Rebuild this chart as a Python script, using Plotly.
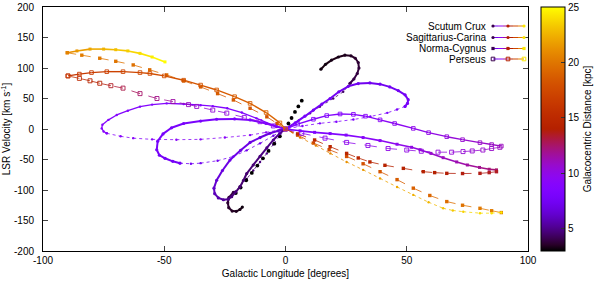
import math
import plotly.graph_objects as go

# ---------------- data ----------------
# Scutum-Crux
scutum_hook_up_l = [14.6, 16.5, 19.0, 21.8, 24.5, 27.0, 28.8, 30.0, 30.3, 29.6, 28.2, 26.6]
scutum_hook_up_v = [98, 106, 113, 118, 121, 120, 116, 109, 100, 91, 82, 75]
scutum_hook_up_r = [3.2, 3.2, 3.3, 3.3, 3.4, 3.5, 3.6, 3.7, 3.8, 3.9, 4.0, 4.1]

scutum_mid_l = [26.6, 23.8, 19.7, 14.2, 10.1, 5.5, 2.0, 0.0, -2.5, -5.0, -7.7, -10.5, -13.3, -16.0, -18.8, -21.5]
scutum_mid_v = [75, 61, 50, 36.6, 25.7, 14, 5, 0, -12, -25, -40, -54, -68, -82, -94, -104]
scutum_mid_r = [4.2, 4.4, 4.6, 4.8, 5.0, 5.2, 5.4, 5.5, 5.4, 5.2, 5.0, 4.8, 4.6, 4.4, 4.2, 4.0]

scutum_hook_low_l = [-21.5, -23.3, -23.8, -23.4, -22.0, -20.3, -18.8, -17.8]
scutum_hook_low_v = [-104, -112, -121, -129, -134.5, -135, -132, -128]
scutum_hook_low_r = [4.0, 3.8, 3.7, 3.6, 3.5, 3.4, 3.3, 3.2]

scutum_far_l = [0, 5, 11.5, 18, 25.2, 32, 39, 46, 52.7, 59.5, 66.5, 73, 80.2, 85, 89]
scutum_far_v = [0, -10, -23, -34, -45, -57, -70, -83, -97, -109, -119, -125, -130, -134, -137]
scutum_far_r = [17.0, 17.2, 17.4, 17.6, 17.8, 18.0, 18.3, 18.6, 18.9, 19.2, 19.5, 19.8, 20.1, 20.3, 20.5]

# Sagittarius-Carina
carina_top_l = [0, -5, -11.9, -18, -24, -30, -35, -42, -49, -55, -60, -65, -69.6, -73, -75.5, -75.8, -75, -73.7]
carina_top_v = [0, 6, 17.5, 27, 34, 37.5, 39, 41, 42, 40, 36.6, 30, 23, 15, 7, 1, -4, -7]
carina_top_r = [8.6, 8.6, 8.6, 8.6, 8.6, 8.7, 8.7, 8.7, 8.8, 8.8, 8.8, 8.9, 8.9, 8.9, 9.0, 9.0, 9.0, 9.0]

carina_bot_l = [-73.7, -68, -62.8, -55, -45, -35, -25, -14.6, -8, -2.3, 0]
carina_bot_v = [-7, -12, -15, -17, -17.5, -17, -14, -10, -5.5, -1.6, 0]
carina_bot_r = [9.1, 9.1, 9.2, 9.2, 9.3, 9.3, 9.3, 9.4, 9.4, 9.4, 9.4]

sagittarius_l = [0, 4, 8, 11.5, 15, 18.4, 22, 25.9, 30, 34.8, 39, 43, 46.5, 49.3, 50.6, 50.3, 49.3]
sagittarius_v = [0, 10, 21, 31, 41, 50, 61, 70, 74.5, 75.5, 73.5, 69, 63, 56, 48, 42, 37]
sagittarius_r = [8.0, 7.9, 7.8, 7.7, 7.6, 7.5, 7.4, 7.3, 7.3, 7.3, 7.3, 7.4, 7.4, 7.5, 7.6, 7.7, 7.8]

sagittarius_ret_l = [49.3, 46, 42, 35, 28, 21, 14.2, 7, 0]
sagittarius_ret_v = [37, 32, 26.5, 20.5, 15.5, 12, 9.3, 5, 0]
sagittarius_ret_r = [7.9, 8.0, 8.1, 8.2, 8.3, 8.4, 8.5, 8.5, 8.5]

carina_far_l = [-90, -86, -80.6, -75, -70, -65, -60, -55, -49.7]
carina_far_v = [125, 128, 131, 131, 130, 128, 124, 118, 110]
carina_far_r = [21.0, 21.5, 22.0, 22.5, 23.0, 23.5, 24.0, 24.5, 25.0]

sagittarius_far_l = [0, 6, 12.5, 18.5, 25.2, 32, 39, 46, 52.7, 59, 65, 69, 73.3, 80.2, 85, 89]
sagittarius_far_v = [0, -14, -27, -40, -54, -67, -81, -95, -108, -120, -130, -133.5, -135.6, -138, -138, -137]
sagittarius_far_r = [20.0, 20.3, 20.6, 20.9, 21.2, 21.5, 21.8, 22.1, 22.4, 22.7, 23.0, 23.3, 23.6, 23.9, 24.2, 24.5]

# Norma-Cygnus
norma_inner_l = [6.7, 5.3, 3.9, 2.5, 1.2, 0.0, -2.3, -4.6, -7.0, -9.3, -11.6, -13.9, -16.2, -18.5, -20.5]
norma_inner_v = [46.5, 37, 28, 18, 9, 0, -12, -24, -36, -48, -60, -72, -84, -96, -105]
norma_inner_r = [3.0, 3.0, 3.0, 3.1, 3.1, 3.1, 3.1, 3.1, 3.0, 3.0, 3.0, 3.0, 3.0, 3.0, 3.0]

norma_loop_l = [0, -3, -6.4, -10.5, -14.6, -18.5, -22.9, -26.0, -28.4, -29.5, -29.2, -27.7, -25.6, -23.6, -22.2,
                -20.5, -18.8, -17.3, -16.0, -13.3, -10.5, -7.7, -5.0, -2.3, 0]
norma_loop_v = [0, -3, -7, -14, -22, -35, -51, -68, -84, -97, -106, -113, -116, -115, -111,
                -103, -95, -84, -73, -59, -45, -31, -18, -7, 0]
norma_loop_r = [6.5, 6.6, 6.7, 6.8, 6.9, 7.0, 7.0, 6.8, 6.5, 6.2, 5.9, 5.6, 5.3, 5.0, 4.8,
                4.7, 4.6, 4.6, 4.6, 4.7, 4.8, 4.9, 5.0, 5.1, 5.2]

norma_mid_top_l = [0, -3.6, -8.0, -14.6, -21.0, -28.4, -35.0, -42.0, -47.0, -50.5, -52.7, -53.1, -52.0, -49.7, -46.5, -43.5]
norma_mid_top_v = [0, 4, 9, 14.8, 16.5, 16, 13, 9, 2, -8, -20, -34, -43, -48, -53, -56]
norma_mid_top_r = [8.3, 8.3, 8.2, 8.2, 8.1, 8.1, 8.0, 8.0, 7.9, 7.9, 7.8, 7.8, 7.7, 7.7, 7.6, 7.6]

norma_mid_bot_l = [-43.5, -39.0, -35.0, -28.0, -21.5, -16.0, -10.5, -5.0, 0]
norma_mid_bot_v = [-56, -57, -56, -52, -45, -35, -23.5, -11, 0]
norma_mid_bot_r = [7.5, 7.5, 7.4, 7.4, 7.3, 7.3, 7.2, 7.2, 7.2]

cygnus_l = [0, 6, 12, 18.4, 25, 32, 39, 46, 52, 55.5, 60, 65, 70.6, 75, 80, 84, 87]
cygnus_v = [0, -3, -5.5, -7.5, -10, -14, -19, -25, -30, -34, -40, -47, -54, -59, -63, -66, -67]
cygnus_r = [8.0, 8.2, 8.4, 8.6, 8.9, 9.2, 9.5, 9.8, 10.1, 10.4, 10.7, 11.0, 11.3, 11.6, 11.9, 12.2, 12.5]

cygnus_far_l = [0, 5, 12, 18.4, 25.2, 30, 34.8, 41, 48.6, 56.8, 61.5, 66.5, 73, 80.2, 84, 87]
cygnus_far_v = [0, -8, -18, -29, -40, -47.5, -54, -59.5, -64.5, -70, -71.5, -72.7, -73, -72.7, -71.5, -70]
cygnus_far_r = [15.0, 14.9, 14.8, 14.7, 14.6, 14.5, 14.4, 14.3, 14.2, 14.1, 14.0, 13.9, 13.8, 13.7, 13.6, 13.5]

norma_far_l = [-90, -84, -76.6, -70, -62.8, -56, -49, -42, -35, -28, -21.5, -14.6, -7.7, -3.5, 0]
norma_far_v = [125, 121, 116, 111, 105, 97, 88.6, 79, 69, 58, 47.6, 34, 20, 9, 0]
norma_far_r = [20.5, 20.3, 20.1, 19.9, 19.7, 19.5, 19.3, 19.1, 18.9, 18.7, 18.5, 18.3, 18.1, 17.9, 17.7]

# Perseus
perseus_near_l = [0, 5, 11.5, 17, 22.5, 28, 33, 39, 45, 52.7, 59, 66.5, 73, 80.2, 85, 89]
perseus_near_v = [0, 8, 16, 22, 24.6, 24, 21, 15, 9, 1, -6, -12.6, -17.5, -22.4, -25.5, -28]
perseus_near_r = [8.5, 8.6, 8.7, 8.8, 8.9, 9.0, 9.2, 9.4, 9.6, 9.8, 10.0, 10.3, 10.6, 10.8, 10.9, 11.0]

perseus_right_l = [0, 6.7, 16.3, 25.2, 34, 42.3, 50, 56, 62.9, 68.5, 73.2, 77, 81.4, 85, 88.4]
perseus_right_v = [0, -7, -15, -22, -27, -32, -34.5, -36.5, -38, -38, -37, -36, -34.5, -32, -30]
perseus_right_r = [9.5, 9.6, 9.7, 9.8, 9.9, 10.0, 10.1, 10.2, 10.3, 10.4, 10.5, 10.6, 10.7, 10.8, 11.0]

perseus_left_l = [0, -5, -10.5, -17, -24.2, -30, -36.6, -40, -46.4, -53, -60, -67, -72, -76.6, -80.6, -85, -89.7]
perseus_left_v = [0, 5, 12, 19, 26, 31, 37, 40, 45, 50, 58, 67, 71, 75, 79, 83, 87]
perseus_left_r = [9.5, 9.6, 9.8, 10.0, 10.3, 10.5, 10.8, 11.0, 11.5, 12.0, 12.5, 13.0, 13.5, 14.0, 14.5, 15.0, 16.0]

perseus_far_l = [-89.7, -85, -80, -73.7, -67, -60, -55.9, -50, -42, -35, -28.4, -21, -14.6, -8, -2.3, 0]
perseus_far_v = [87, 90, 92.5, 94, 94, 92.5, 91, 87, 80, 72, 64, 53, 42, 27, 10, 0]
perseus_far_r = [16.0, 16.3, 16.6, 16.9, 17.2, 17.5, 17.7, 17.9, 18.1, 18.3, 18.5, 18.7, 18.9, 19.0, 19.1, 19.2]

# axis / colour bar settings
x_ticks = [-100, -50, 0, 50, 100]
y_ticks = [-200, -150, -100, -50, 0, 50, 100, 150, 200]
cb_ticks = [5, 10, 15, 20, 25]
legend_names = ["Scutum Crux", "Sagittarius-Carina", "Norma-Cygnus", "Perseus"]
R_MIN, R_MAX = 3, 25


# ---------------- gnuplot default palette (rgbformulae 7,5,15) ----------------
def pal(t):
    t = min(max(t, 0.0), 1.0)
    r = math.sqrt(t)
    g = t ** 3
    b = max(0.0, math.sin(2 * math.pi * t))
    return "rgb(%d,%d,%d)" % (round(255 * r), round(255 * g), round(255 * b))


def rcol(rv):
    return pal((rv - R_MIN) / (R_MAX - R_MIN))


colorscale = [[i / 40, pal(i / 40)] for i in range(41)]

DENSE = dict(symbol="circle", size=3.2, width=2.0, dash="solid")
MED = dict(symbol="circle", size=2.4, width=1.3, dash="solid")
THIN = dict(symbol="circle", size=2.4, width=0.8, dash="dot")
BIGDOT = dict(symbol="circle", size=3.8, width=0.0, dash="solid")
SQ = dict(symbol="square", size=3.4, width=0.8, dash="dash")
SQD = dict(symbol="square", size=3.0, width=1.6, dash="solid")
OSQ = dict(symbol="square-open", size=4.0, width=0.8, dash="dash")
OSQD = dict(symbol="square-open", size=3.6, width=1.4, dash="solid")

strokes = [
    (scutum_hook_up_l, scutum_hook_up_v, scutum_hook_up_r, DENSE),
    (scutum_mid_l, scutum_mid_v, scutum_mid_r, THIN),
    (scutum_hook_low_l, scutum_hook_low_v, scutum_hook_low_r, DENSE),
    (scutum_far_l, scutum_far_v, scutum_far_r, SQ),
    (carina_top_l, carina_top_v, carina_top_r, MED),
    (carina_bot_l, carina_bot_v, carina_bot_r, THIN),
    (sagittarius_l, sagittarius_v, sagittarius_r, DENSE),
    (sagittarius_ret_l, sagittarius_ret_v, sagittarius_ret_r, THIN),
    (carina_far_l, carina_far_v, carina_far_r, SQD),
    (sagittarius_far_l, sagittarius_far_v, sagittarius_far_r, THIN),
    (norma_inner_l, norma_inner_v, norma_inner_r, BIGDOT),
    (norma_loop_l, norma_loop_v, norma_loop_r, DENSE),
    (norma_mid_top_l, norma_mid_top_v, norma_mid_top_r, DENSE),
    (norma_mid_bot_l, norma_mid_bot_v, norma_mid_bot_r, THIN),
    (cygnus_l, cygnus_v, cygnus_r, SQD),
    (cygnus_far_l, cygnus_far_v, cygnus_far_r, SQ),
    (norma_far_l, norma_far_v, norma_far_r, SQ),
    (perseus_near_l, perseus_near_v, perseus_near_r, OSQD),
    (perseus_right_l, perseus_right_v, perseus_right_r, OSQ),
    (perseus_left_l, perseus_left_v, perseus_left_r, OSQ),
    (perseus_far_l, perseus_far_v, perseus_far_r, OSQD),
]

fig = go.Figure()

for ls, vs, rs, st in strokes:
    if st["width"] > 0:
        for i in range(len(ls) - 1):
            fig.add_trace(go.Scatter(
                x=[ls[i], ls[i + 1]], y=[vs[i], vs[i + 1]], mode="lines",
                line=dict(color=rcol((rs[i] + rs[i + 1]) / 2), width=st["width"], dash=st["dash"]),
                hoverinfo="skip", showlegend=False))
    fig.add_trace(go.Scatter(
        x=ls, y=vs, mode="markers",
        marker=dict(symbol=st["symbol"], size=st["size"], color=rs, colorscale=colorscale,
                    cmin=R_MIN, cmax=R_MAX, line=dict(width=0.9, color=[rcol(r) for r in rs])
                    if "open" in st["symbol"] else dict(width=0)),
        showlegend=False))

# colour bar
fig.add_trace(go.Scatter(
    x=[None], y=[None], mode="markers",
    marker=dict(color=[R_MIN], colorscale=colorscale, cmin=R_MIN, cmax=R_MAX, showscale=True,
                colorbar=dict(thickness=24, len=1.0, lenmode="fraction", x=1.027, xanchor="left",
                              xpad=0, ypad=0,
                              y=0.5, yanchor="middle", outlinecolor="black", outlinewidth=1,
                              tickvals=cb_ticks, ticks="inside", ticklen=4, tickcolor="#333",
                              tickfont=dict(size=10, color="black"),
                              title=dict(text="Galacocentric Distance [kpc]", side="right",
                                         font=dict(size=10, color="black")))),
    showlegend=False, hoverinfo="skip"))

# legend drawn manually (text left of sample, gnuplot style)
PW, PH, ML, MB, MT, MR = 485, 244, 43, 35, 7, 72
rows_px = [26, 37.5, 48.5, 59]
leg_syms = ["circle", "circle", "square", "square-open"]
for name, ypx, sym in zip(legend_names, rows_px, leg_syms):
    yp = (286 - MB - ypx) / PH
    fig.add_annotation(x=(488 - ML) / PW, y=yp, xref="paper", yref="paper", text=name,
                       showarrow=False, xanchor="right", yanchor="middle",
                       font=dict(size=10, color="black"))
    xs = [493, 498, 503, 508, 513, 518, 524]
    ts = [0.2, 0.3, 0.4, 0.5, 0.65, 0.8, 0.97]
    for k in range(len(xs) - 1):
        fig.add_shape(type="line", xref="paper", yref="paper",
                      x0=(xs[k] - ML) / PW, x1=(xs[k + 1] - ML) / PW, y0=yp, y1=yp,
                      line=dict(color=pal(ts[k]), width=1))
    for xpx, t in [(493, 0.05), (508, 0.5), (524, 0.97)]:
        c = pal(t)
        if sym == "square-open":
            fig.add_shape(type="rect", xref="paper", yref="paper",
                          x0=(xpx - 1.8 - ML) / PW, x1=(xpx + 1.8 - ML) / PW,
                          y0=yp - 1.8 / PH, y1=yp + 1.8 / PH, line=dict(color=c, width=1))
        else:
            fig.add_shape(type="rect" if sym == "square" else "circle", xref="paper", yref="paper",
                          x0=(xpx - 1.6 - ML) / PW, x1=(xpx + 1.6 - ML) / PW,
                          y0=yp - 1.6 / PH, y1=yp + 1.6 / PH, line=dict(width=0), fillcolor=c)

axis_common = dict(showgrid=False, zeroline=False, showline=True, linecolor="black", linewidth=1,
                   mirror="ticks", ticks="inside", ticklen=5, tickcolor="#444", automargin=False,
                   tickfont=dict(size=10, color="black"))

fig.update_layout(
    width=600, height=286,
    margin=dict(l=ML, r=MR, t=MT, b=MB, autoexpand=False),
    paper_bgcolor="white", plot_bgcolor="white",
    hovermode=False,
    font=dict(family="Liberation Sans, Arial, sans-serif", size=10, color="black"),
    xaxis=dict(range=[-100, 100], tickvals=x_ticks, ticktext=[str(t) for t in x_ticks],
               title=dict(text="Galactic Longitude [degrees]", standoff=4, font=dict(size=10)),
               **axis_common),
    yaxis=dict(range=[-200, 200], tickvals=y_ticks, ticktext=[str(t) for t in y_ticks],
               title=dict(text="LSR Velocity [km s<sup>-1</sup>]", standoff=6, font=dict(size=10)),
               ticklabelstandoff=6, **axis_common),
    showlegend=False,
)

fig.write_html("out.html", config={"displayModeBar": False, "staticPlot": True},
               post_script="document.body.style.margin='0';document.body.style.overflow='hidden';")
